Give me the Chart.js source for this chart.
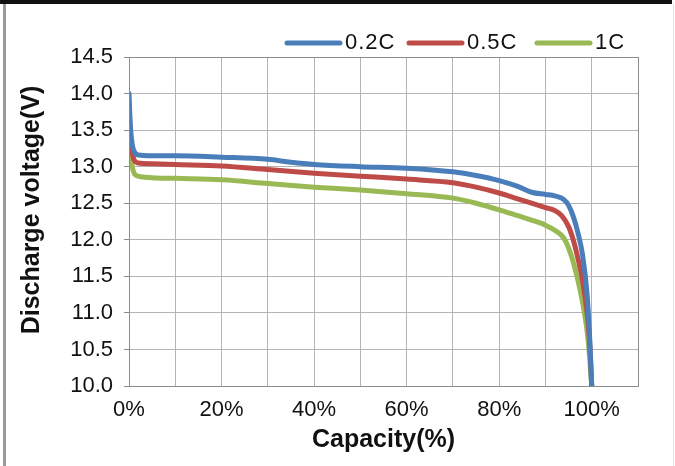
<!DOCTYPE html>
<html>
<head>
<meta charset="utf-8">
<script src="https://cdn.jsdelivr.net/npm/chart.js@4/dist/chart.umd.min.js"></script>
<style>
  html, body { margin: 0; padding: 0; background: #fff; }
  #wrap { width: 675px; height: 466px; position: relative; }
</style>
</head>
<body>
<div id="wrap"><canvas id="c" width="675" height="466"></canvas></div>
<script>
// ---- data ----
const seriesNames = ['0.2C', '0.5C', '1C'];

const cap02 = [0, 0.3, 0.7, 1.2, 2, 5, 10, 20, 30, 35, 40, 50, 60, 70, 75, 80, 84, 87, 90, 92, 94, 95, 96, 97, 98, 99, 99.6, 100];
const volt02 = [14.0, 13.55, 13.3, 13.2, 13.16, 13.15, 13.15, 13.13, 13.10, 13.06, 13.03, 13.0, 12.98, 12.93, 12.88, 12.81, 12.73, 12.65, 12.62, 12.60, 12.55, 12.47, 12.32, 12.10, 11.80, 11.25, 10.6, 10.0];

const cap05 = [0, 0.3, 0.7, 1.2, 2, 5, 10, 20, 30, 40, 50, 60, 70, 75, 80, 84, 87, 90, 92, 93.5, 95, 96, 97, 98, 99, 99.6, 100];
const volt05 = [13.85, 13.45, 13.2, 13.08, 13.05, 13.04, 13.03, 13.01, 12.96, 12.91, 12.87, 12.83, 12.78, 12.72, 12.64, 12.56, 12.50, 12.44, 12.40, 12.33, 12.18, 12.0, 11.75, 11.45, 11.0, 10.55, 10.0];

const cap1 = [0, 0.3, 0.7, 1.2, 2, 5, 10, 20, 30, 40, 50, 60, 70, 75, 80, 84, 87, 90, 92, 94, 95.5, 97, 98, 99, 99.6, 100];
const volt1 = [13.7, 13.25, 13.0, 12.9, 12.87, 12.85, 12.84, 12.82, 12.77, 12.72, 12.68, 12.63, 12.57, 12.50, 12.41, 12.33, 12.27, 12.20, 12.13, 12.02, 11.80, 11.45, 11.15, 10.75, 10.35, 10.0];

const xLabelTicks = [0, 20, 40, 60, 80, 100];
const yTitle = 'Discharge voltage(V)';
const xTitle = 'Capacity(%)';

const colors = ['#4A7EBB', '#BE4B48', '#98B954'];

function pts(xs, ys) { return xs.map((x, i) => ({ x: x, y: ys[i] })); }

const FONT = "'Liberation Sans', Arial, sans-serif";

const framePlugin = {
  id: 'frame',
  beforeDraw(chart) {
    const ctx = chart.ctx;
    ctx.save();
    ctx.fillStyle = '#fff';
    ctx.fillRect(0, 0, chart.width, chart.height);
    ctx.fillStyle = '#111';
    ctx.fillRect(0, 0, 672, 4);
    ctx.fillStyle = '#9a9a9a';
    ctx.fillRect(3, 4, 3, chart.height - 4);
    ctx.fillStyle = '#e4e4e4';
    ctx.fillRect(673, 4, 1, chart.height - 4);
    ctx.restore();
  },
  afterDatasetsDraw(chart) {
    const a = chart.chartArea;
    const ctx = chart.ctx;
    ctx.save();
    ctx.strokeStyle = '#8c8c8c';
    ctx.lineWidth = 1;
    ctx.strokeRect(Math.round(a.left) + 0.5, Math.round(a.top) + 0.5, Math.round(a.right - a.left), Math.round(a.bottom - a.top));
    ctx.restore();
  }
};

// rotated y-axis title (placed slightly above the plot centre, as in the reference)
const yTitlePlugin = {
  id: 'yTitleDraw',
  afterDraw(chart, args, opts) {
    const ctx = chart.ctx;
    ctx.save();
    ctx.translate(opts.x, opts.y);
    ctx.rotate(-Math.PI / 2);
    ctx.font = opts.font;
    ctx.fillStyle = opts.color;
    ctx.textAlign = 'center';
    ctx.textBaseline = 'middle';
    ctx.fillText(opts.text, 0, 0);
    ctx.restore();
  }
};

// legend drawn from the datasets' own labels and colours
const lineLegend = {
  id: 'lineLegend',
  afterDraw(chart, args, opts) {
    const ctx = chart.ctx;
    ctx.save();
    ctx.font = opts.font;
    ctx.textBaseline = 'alphabetic';
    ctx.textAlign = 'left';
    chart.data.datasets.forEach((ds, i) => {
      const x0 = opts.starts[i];
      ctx.strokeStyle = ds.borderColor;
      ctx.lineWidth = 5;
      ctx.lineCap = 'round';
      ctx.beginPath();
      ctx.moveTo(x0 + 2, opts.lineY);
      ctx.lineTo(x0 + opts.lineLen - 2, opts.lineY);
      ctx.stroke();
      ctx.fillStyle = opts.color;
      try { ctx.letterSpacing = opts.letterSpacing; } catch (e) {}
      ctx.fillText(ds.label, x0 + opts.lineLen + 3, opts.textBaseline);
      try { ctx.letterSpacing = '0px'; } catch (e) {}
    });
    ctx.restore();
  }
};

new Chart(document.getElementById('c'), {
  type: 'line',
  data: {
    datasets: [
      { label: seriesNames[0], data: pts(cap02, volt02), borderColor: colors[0], backgroundColor: colors[0] },
      { label: seriesNames[1], data: pts(cap05, volt05), borderColor: colors[1], backgroundColor: colors[1] },
      { label: seriesNames[2], data: pts(cap1, volt1), borderColor: colors[2], backgroundColor: colors[2] }
    ].map(d => Object.assign(d, { borderWidth: 5, pointRadius: 0, cubicInterpolationMode: 'monotone', fill: false, borderCapStyle: 'round' }))
  },
  options: {
    responsive: false,
    animation: false,
    devicePixelRatio: 1,
    layout: { padding: { left: 0, right: 37, top: 57, bottom: 0 } },
    plugins: {
      legend: { display: false },
      tooltip: { enabled: false },
      lineLegend: { starts: [285, 407, 535], lineLen: 57, lineY: 43, textBaseline: 49, color: '#111', letterSpacing: '1px', font: "22px 'Liberation Sans', Arial, sans-serif" },
      yTitleDraw: { text: yTitle, x: 32, y: 210, color: '#111', font: "bold 25px 'Liberation Sans', Arial, sans-serif" }
    },
    scales: {
      x: {
        type: 'linear',
        min: 0, max: 110,
        ticks: {
          stepSize: 10,
          autoSkip: false,
          maxRotation: 0,
          color: '#111',
          padding: 11,
          font: { family: FONT, size: 22 },
          callback: v => xLabelTicks.includes(v) ? v + '%' : ''
        },
        grid: { color: '#b4b4b4', borderDash: [6, 4], drawTicks: false },
        border: { display: true, color: '#8c8c8c' },
        title: { display: true, text: xTitle, color: '#111', font: { family: FONT, size: 25, weight: 'bold' }, padding: { top: 0, bottom: 11 } },
        afterFit(s) { s.height = 80; }
      },
      y: {
        min: 10, max: 14.5,
        ticks: {
          stepSize: 0.5,
          color: '#111',
          padding: 11,
          font: { family: FONT, size: 22 },
          callback: v => v.toFixed(1)
        },
        grid: { color: '#b4b4b4', borderDash: [6, 4], tickLength: 5, tickBorderDash: [], tickColor: '#8c8c8c' },
        border: { display: true, color: '#8c8c8c' },
        title: { display: false, text: yTitle },
        afterFit(s) { s.width = 129; }
      }
    }
  },
  plugins: [framePlugin, lineLegend, yTitlePlugin]
});
</script>
</body>
</html>
